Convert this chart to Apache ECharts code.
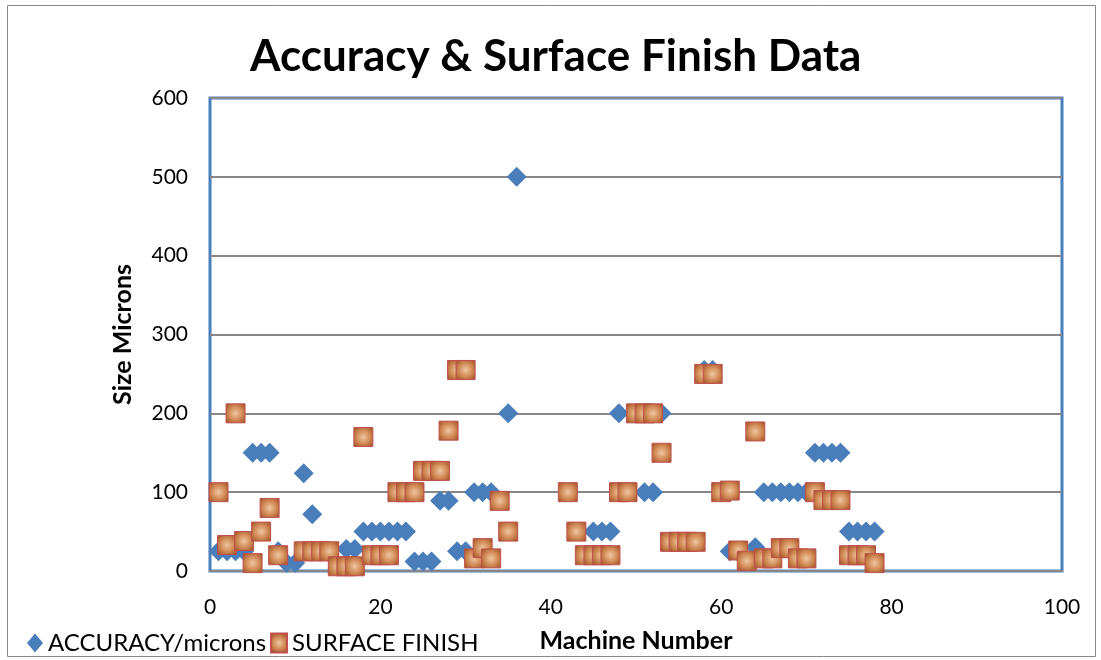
<!DOCTYPE html>
<html>
<head>
<meta charset="utf-8">
<script src="https://cdn.jsdelivr.net/npm/echarts@6/dist/echarts.min.js"></script>
<style>
html,body{margin:0;padding:0;background:#fff;}
#chart{width:1101px;height:660px;}
</style>
</head>
<body>
<div id="chart"></div>
<script>
// Machine numbers 1..78
const machines = [1,2,3,4,5,6,7,8,9,10,11,12,13,14,15,16,17,18,19,20,
  21,22,23,24,25,26,27,28,29,30,31,32,33,34,35,36,37,38,39,40,
  41,42,43,44,45,46,47,48,49,50,51,52,53,54,55,56,57,58,59,60,
  61,62,63,64,65,66,67,68,69,70,71,72,73,74,75,76,77,78];

// ACCURACY/microns (null = not visible in the reference)
const accuracy = [25,25,25,25,150,150,150,25,10,10,
  124,72,null,null,null,28,28,50,50,50,
  50,50,50,12,12,12,89,89,25,25,
  100,100,100,null,200,500,null,null,null,null,
  null,null,null,null,50,50,50,200,null,null,
  100,100,200,null,null,null,null,255,255,null,
  25,null,null,30,100,100,100,100,100,100,
  150,150,150,150,50,50,50,50];

// SURFACE FINISH
const surface = [100,33,200,38,10,50,80,20,null,null,
  25,25,25,25,6,6,6,170,20,20,
  20,100,100,100,127,127,127,178,255,255,
  16,29,16,89,50,null,null,null,null,null,
  null,100,50,20,20,20,20,100,100,200,
  200,200,150,37,37,37,37,250,250,100,
  102,26,13,177,16,16,29,29,16,16,
  100,90,90,90,20,20,20,10];

const yTicks = [0,100,200,300,400,500,600];
const xTicks = [0,20,40,60,80,100];

function pairs(vals){
  const out = [];
  machines.forEach((m,i)=>{ if(vals[i]!==null && vals[i]!==undefined) out.push([m, vals[i]]); });
  return out;
}

const FONT = 'Lato';
const chart = echarts.init(document.getElementById('chart'));
chart.setOption({
  animation:false,
  backgroundColor:'#ffffff',
  title:{
    text:'Accuracy & Surface Finish Data',
    left:245, top:30,
    textStyle:{fontFamily:FONT, fontSize:44, fontWeight:'bold', color:'#000'}
  },
  graphic:[{
    type:'rect', silent:true,
    shape:{x:7.5,y:5.5,width:1088,height:651},
    style:{fill:'none', stroke:'#888888', lineWidth:1}
  }],
  legend:{
    left:22, top:626,
    itemWidth:16, itemHeight:19, itemGap:4,
    textStyle:{fontFamily:FONT, fontSize:24, color:'#000'},
    data:['ACCURACY/microns','SURFACE FINISH']
  },
  grid:{
    left:210, right:39, top:98, bottom:89,
    outerBoundsMode:'none',
    containLabel:false,
    show:true, borderColor:'#4A7EBB', borderWidth:3, backgroundColor:'#fff'
  },
  xAxis:{
    type:'value', min:0, max:100, interval:20,
    name:'Machine Number', nameLocation:'middle', nameGap:57,
    nameTextStyle:{fontFamily:FONT, fontSize:25, fontWeight:'bold', color:'#000'},
    axisLine:{show:true, lineStyle:{color:'#878787', width:2}},
    axisTick:{show:false},
    splitLine:{show:false},
    axisLabel:{fontFamily:FONT, fontSize:21, color:'#000', margin:26,
      formatter:v=> xTicks.includes(v) ? String(v) : ''}
  },
  yAxis:{
    type:'value', min:0, max:600, interval:100,
    name:'Size Microns', nameLocation:'middle', nameGap:75,
    nameTextStyle:{fontFamily:FONT, fontSize:25, fontWeight:'bold', color:'#000'},
    axisLine:{show:false}, axisTick:{show:false},
    splitLine:{show:true, lineStyle:{color:'#878787', width:2}},
    axisLabel:{fontFamily:FONT, fontSize:21, color:'#000', margin:22,
      formatter:v=> yTicks.includes(v) ? String(v) : ''}
  },
  series:[
    {
      name:'ACCURACY/microns', type:'scatter', symbol:'diamond', symbolSize:[20,20],
      itemStyle:{color:'#4A7EBB', opacity:1},
      data:pairs(accuracy), z:2
    },
    {
      name:'SURFACE FINISH', type:'scatter', symbol:'rect', symbolSize:[19,19],
      itemStyle:{
        color:{type:'radial', x:0.5, y:0.5, r:0.72,
          colorStops:[{offset:0,color:'#F0C6A0'},{offset:0.5,color:'#CF8752'},{offset:1,color:'#96421D'}]},
        borderColor:'#C0504D', borderWidth:1, opacity:1
      },
      data:pairs(surface), z:3
    }
  ]
});
</script>
</body>
</html>
